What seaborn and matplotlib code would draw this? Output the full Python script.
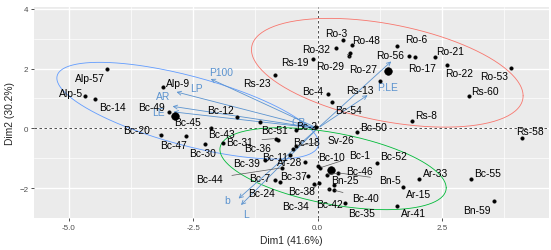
import numpy as np
import pandas as pd
import matplotlib
matplotlib.use("Agg")
import matplotlib.pyplot as plt
from matplotlib.ticker import MultipleLocator
import seaborn as sns

# Indivíduos (coordenadas nas duas primeiras dimensões)
ind_nomes = ["Alp-57", "Alp-5", "Bc-14", "Alp-9", "Bc-49", "Bc-20", "Bc-47", "Bc-45", "Bc-43", "Bc-30",
             "Bc-12", "", "Rs-23", "Rs-19", "Ro-3", "Ro-32", "Ro-48", "Ro-29", "Ro-27", "Ro-6",
             "Ro-56", "Ro-17", "Ro-21", "Ro-22", "Ro-53", "Rs-60", "Rs-8", "Rs-13", "Bc-4", "Bc-54",
             "Bc-50", "Rs-58", "Bc-55", "Bn-59", "Ar-33", "Ar-15", "Ar-41", "Bc-52", "Bn-5", "Bc-46",
             "Bc-10", "Bc-1", "Bn-25", "Bc-40", "Bc-35", "Bc-42", "Bc-34", "Bc-38", "Bc-37", "Bc-24",
             "Bc-7", "Bc-44", "Bc-39", "Ar-28", "Bc-11", "Bc-36", "Bc-31", "Bc-18", "Sv-26", "Bc-51",
             "Bc-2"]
ind_dim1 = [-4.23, -4.67, -4.47, -3.11, -2.99, -3.15, -2.65, -2.15, -1.91, -2.27,
            -1.62, -1.16, -0.86, -0.10, 0.52, 0.36, 0.70, 0.65, 0.63, 1.59,
            1.84, 1.96, 2.36, 2.61, 3.88, 3.04, 1.90, 1.25, 0.21, 0.29,
            0.79, 4.10, 3.08, 3.55, 2.04, 1.71, 1.60, 1.20, 0.41, 0.18,
            0.01, 0.05, 0.33, 0.33, 0.55, 0.23, 0.03, -0.07, -0.19, -0.76,
            -0.86, -0.72, -1.06, -0.26, -0.56, -0.79, -0.84, -0.49, -0.44, -0.44,
            -0.03]
ind_dim2 = [2.00, 1.07, 0.97, 1.38, 0.55, -0.21, -0.24, 0.01, -0.48, -0.51,
            0.38, 0.21, 1.77, 2.33, 2.94, 2.69, 2.80, 2.52, 2.41, 2.74,
            2.42, 2.39, 2.39, 2.11, 2.02, 1.07, 0.25, 1.59, 1.16, 0.88,
            -0.11, -0.32, -1.68, -2.44, -1.68, -1.96, -2.61, -1.16, -1.49, -1.55,
            -1.26, -1.32, -1.88, -2.07, -2.49, -2.02, -1.83, -1.85, -1.61, -1.79,
            -1.74, -1.32, -1.07, -1.12, -0.90, -0.40, -0.34, -0.68, -0.58, -0.07,
            0.06]

# Centros dos grupos (pontos maiores)
grupos = ["G1", "G2", "G3"]
grupo_dim1 = [1.42, -2.87, 0.26]
grupo_dim2 = [1.91, 0.42, -1.38]
grupo_cor = ["#F8766D", "#619CFF", "#00BA38"]

# Elipses de cada grupo: centro e matriz de covariância
elip_cx = [1.40, -2.61, 0.31]
elip_cy = [1.86, 0.59, -1.35]
elip_sxx = [7.45, 6.92, 5.17]
elip_syy = [3.31, 2.62, 1.88]
elip_sxy = [-2.11, -2.87, -1.46]

# Variáveis (setas)
var_nomes = ["P100", "LP", "AR", "LE", "CB", "P.LE", "P", "b", "L"]
var_dim1 = [-2.20, -2.89, -2.97, -2.95, -0.39, 1.05, 1.52, -1.63, -1.58]
var_dim2 = [1.69, 1.24, 0.75, 0.56, 0.15, 1.16, 2.30, -2.41, -2.63]

# deslocamento dos rótulos em pixels (tipo ggrepel)
desloc_ind = {
    "Alp-57": (-17, -9), "Alp-5": (-14, 3), "Bc-14": (17, -8), "Alp-9": (15, 4), "Bc-49": (-17, 5),
    "Bc-20": (-24, 5), "Bc-47": (-12, -9), "Bc-45": (-23, 6), "Bc-43": (-1, 9), "Bc-30": (-2, -9),
    "Bc-12": (-17, 7), "Rs-23": (-18, -8), "Rs-19": (-18, -3), "Ro-3": (-7, 7), "Ro-32": (-19, -1),
    "Ro-48": (14, 5), "Ro-29": (-20, -13), "Ro-27": (14, -13), "Ro-6": (20, 7), "Ro-56": (-19, 1),
    "Ro-17": (7, -11), "Ro-21": (15, 6), "Ro-22": (12, -8), "Ro-53": (-17, -8), "Rs-60": (16, 5),
    "Rs-8": (14, 6), "Rs-13": (-20, -9), "Bc-4": (-15, 3), "Bc-54": (16, -8), "Bc-50": (17, 5),
    "Rs-58": (8, 7), "Bc-55": (17, 6), "Bn-59": (-17, -9), "Ar-33": (16, 6), "Ar-15": (16, -7),
    "Ar-41": (16, -7), "Bc-52": (16, 7), "Bn-5": (52, -7), "Bc-46": (33, 4), "Bc-10": (13, 9),
    "Bc-1": (40, 13), "Bn-25": (11, 5), "Bc-40": (31, -8), "Bc-35": (17, -10), "Bc-42": (0, -15),
    "Bc-34": (-24, -23), "Bc-38": (-13, -7), "Bc-37": (-15, 0), "Bc-24": (-18, -11), "Bc-7": (-15, 2),
    "Bc-44": (-72, -11), "Bc-39": (-18, -3), "Ar-28": (-15, 0), "Bc-11": (-15, -2), "Bc-36": (-21, -8),
    "Bc-31": (-36, -3), "Bc-18": (13, 7), "Sv-26": (45, 6), "Bc-51": (-21, 0), "Bc-2": (-9, 1),
}
desloc_var = {"P100": (13, 6), "LP": (23, 3), "AR": (-7, 10), "LE": (-12, 0), "CB": (0, 2),
              "P.LE": (18, 7), "P": (0, 0), "b": (-9, 0), "L": (7, -7)}

df_ind = pd.DataFrame({"nome": ind_nomes, "Dim1": ind_dim1, "Dim2": ind_dim2})
df_grp = pd.DataFrame({"grupo": grupos, "Dim1": grupo_dim1, "Dim2": grupo_dim2})

sns.set_theme(style="darkgrid", rc={
    "axes.facecolor": "#EBEBEB",
    "grid.color": "white",
    "axes.edgecolor": "#EBEBEB",
})
plt.rcParams["font.family"] = ["Liberation Sans", "DejaVu Sans"]

fig = plt.figure(figsize=(5.51, 2.51), dpi=100)
ax = fig.add_axes([34 / 551, 1 - 219 / 251, 515 / 551, 211 / 251])

# grade menor
ax.xaxis.set_major_locator(MultipleLocator(2.5))
ax.xaxis.set_minor_locator(MultipleLocator(1.25))
ax.yaxis.set_major_locator(MultipleLocator(2))
ax.yaxis.set_minor_locator(MultipleLocator(1))
ax.grid(which="major", color="white", linewidth=1.0)
ax.grid(which="minor", color="white", linewidth=0.5)

# linhas de referência
ax.axhline(0, color="#333333", linestyle=(0, (3, 3)), linewidth=0.6, zorder=1)
ax.axvline(0, color="#333333", linestyle=(0, (3, 3)), linewidth=0.6, zorder=1)

# elipses
t = np.linspace(0, 2 * np.pi, 200)
for cx, cy, sxx, syy, sxy, cor in zip(elip_cx, elip_cy, elip_sxx, elip_syy, elip_sxy, grupo_cor):
    a = np.sqrt(sxx)
    b = sxy / a
    c = np.sqrt(syy - b ** 2)
    ax.plot(cx + a * np.cos(t), cy + b * np.cos(t) + c * np.sin(t), color=cor, linewidth=0.6, zorder=2)

# setas das variáveis
cor_var = "#5B93CF"
for nome, x, y in zip(var_nomes, var_dim1, var_dim2):
    ax.annotate("", xy=(x, y), xytext=(0, 0),
                arrowprops=dict(arrowstyle="->", color=cor_var, lw=0.6, mutation_scale=7), zorder=3)
    if nome != "P":
        dx, dy = desloc_var[nome]
        ax.annotate(nome, xy=(x, y), xytext=(dx, dy), textcoords="offset pixels",
                    ha="center", va="center", fontsize=7.4, color=cor_var, zorder=4)

# pontos
sns.scatterplot(data=df_ind, x="Dim1", y="Dim2", color="black", s=7, edgecolor=None, ax=ax, zorder=5)
sns.scatterplot(data=df_grp, x="Dim1", y="Dim2", color="black", s=30, edgecolor=None, ax=ax, zorder=5)

# rótulos dos indivíduos
for nome, x, y in zip(ind_nomes, ind_dim1, ind_dim2):
    if not nome:
        continue
    dx, dy = desloc_ind[nome]
    longe = abs(dx) > 22 or abs(dy) > 12
    ax.annotate(nome, xy=(x, y), xytext=(dx, dy), textcoords="offset pixels",
                ha="center", va="center", fontsize=7.4, color="black", zorder=6,
                arrowprops=dict(arrowstyle="-", color="#555555", lw=0.5, shrinkA=4, shrinkB=1) if longe else None)

ax.set_xlim(-5.70, 4.65)
ax.set_ylim(-3.0, 4.06)
ax.set_xticks([-5.0, -2.5, 0.0, 2.5])
ax.set_xticklabels(["-5.0", "-2.5", "0.0", "2.5"])
ax.set_yticks([-2, 0, 2, 4])
ax.tick_params(axis="both", which="major", length=2.5, width=0.6, color="#333333",
               labelsize=5.8, labelcolor="#4D4D4D", pad=1.5, bottom=True, left=True)
ax.tick_params(axis="both", which="minor", length=0)
ax.set_xlabel("Dim1 (41.6%)", fontsize=7.4, labelpad=3)
ax.set_ylabel("Dim2 (30.2%)", fontsize=7.4, labelpad=3)
for s in ax.spines.values():
    s.set_visible(False)

fig.savefig("out.png", dpi=100)
